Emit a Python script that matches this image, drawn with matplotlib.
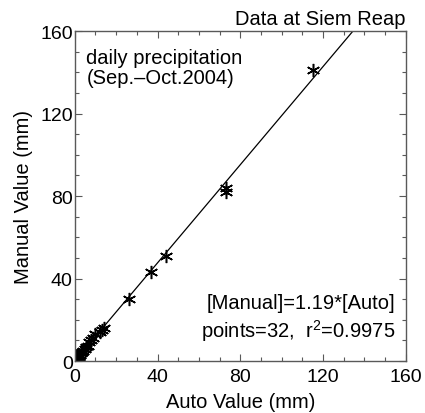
import matplotlib
matplotlib.use("Agg")
import matplotlib.pyplot as plt
import numpy as np
from matplotlib.ticker import MultipleLocator

plt.rcParams['font.family'] = ['Liberation Sans', 'DejaVu Sans']
plt.rcParams['mathtext.fontset'] = 'custom'
plt.rcParams['mathtext.rm'] = 'Liberation Sans'
plt.rcParams['mathtext.it'] = 'Liberation Sans:italic'
plt.rcParams['mathtext.default'] = 'regular'

auto_vals = [115, 73, 73, 44, 37, 26, 14, 13, 12, 10, 9, 8, 7, 6.5, 5.5, 5, 4,
             3.5, 3, 2.5, 2, 1.8, 1.5, 1.2, 1, 0.8, 0.5, 0.4, 0.3, 0.2, 0.1, 0]
manual_vals = [141, 84, 82, 51, 43, 30, 16, 15, 14, 13, 11, 10, 9, 7.5, 7, 6, 5,
               4.5, 4, 3, 2.5, 2, 2, 1.5, 1, 1, 0.6, 0.5, 0.4, 0.2, 0.1, 0]
slope = 1.19
fit_x = [0, 160]

fig = plt.figure(figsize=(4.25, 4.14), dpi=100)
ax = fig.add_axes([0.176, 0.1256, 0.779, 0.7971])

ax.plot(fit_x, [slope * v for v in fit_x], color='black', lw=0.9)
ax.plot(auto_vals, manual_vals, linestyle='none', marker=(6, 2, 0),
        markersize=9.5, markeredgewidth=1.1, color='black')

ax.set_xlim(0, 160)
ax.set_ylim(0, 160)
ax.xaxis.set_major_locator(MultipleLocator(40))
ax.yaxis.set_major_locator(MultipleLocator(40))
ax.xaxis.set_minor_locator(MultipleLocator(10))
ax.yaxis.set_minor_locator(MultipleLocator(10))
ax.tick_params(which='both', direction='in', top=True, right=True,
               color='0.35', labelsize=14)
ax.tick_params(axis='x', which='both', pad=5)
ax.tick_params(axis='y', which='both', pad=1.5)
ax.tick_params(which='major', length=5, width=0.8)
ax.tick_params(which='minor', length=3, width=0.8)
for s in ax.spines.values():
    s.set_color('0.35')
    s.set_linewidth(1.0)

fs = 14.5
ax.set_xlabel('Auto Value (mm)', fontsize=fs, labelpad=5)
ax.set_ylabel('Manual Value (mm)', fontsize=fs, labelpad=5)
ax.set_title('Data at Siem Reap', loc='right', fontsize=fs, pad=5)

ax.text(0.035, 0.921, 'daily precipitation', transform=ax.transAxes,
        fontsize=fs, va='center', ha='left')
ax.text(0.035, 0.858, '(Sep.\u2013Oct.2004)', transform=ax.transAxes,
        fontsize=fs, va='center', ha='left')
ax.text(0.968, 0.178, '[Manual]=1.19*[Auto]', transform=ax.transAxes,
        fontsize=fs, va='center', ha='right')
ax.text(0.968, 0.095, 'points=32,  r$^2$=0.9975', transform=ax.transAxes,
        fontsize=fs, va='center', ha='right')

fig.savefig('out.png', dpi=100)
